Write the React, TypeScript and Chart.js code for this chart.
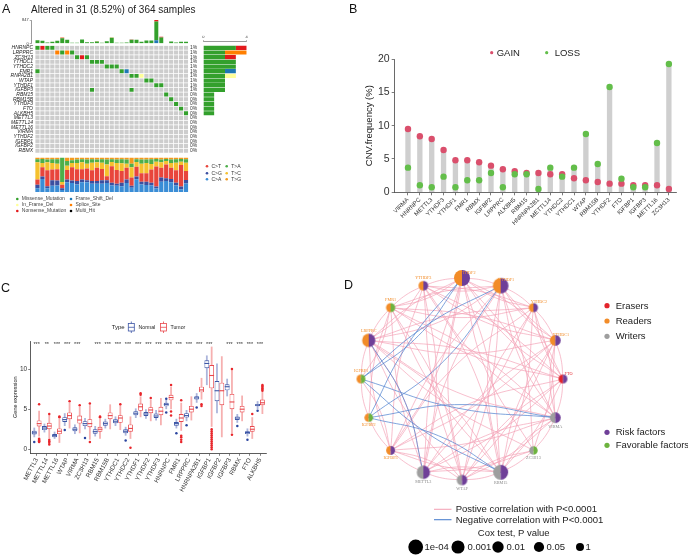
import React, { useEffect, useRef } from 'react';
import { Chart, registerables } from 'chart.js';

Chart.register(...registerables);

const PW = 688;
const PH = 557;
const SANS = '"Liberation Sans", Arial, Helvetica, sans-serif';
const SERIF = '"Liberation Serif", "Times New Roman", serif';

/* ================= Panel A : oncoplot ================= */
const oncoSamples = Array.from({ length: 31 }, (_, i) => `S${i + 1}`);
const oncoGenes = ['HNRNPC', 'LRPPRC', 'ZC3H13', 'YTHDC1', 'YTHDC2', 'FMR1', 'RNPA2B1', 'WTAP', 'YTHDF1', 'IGFBP3', 'RBM15', 'RBM15B', 'YTHDF3', 'FTO', 'ALKBH5', 'METTL3', 'METTL14', 'METTL16', 'VIRMA', 'YTHDF2', 'IGFBP1', 'IGFBP2', 'RBMX'];
const oncoFreq = ['1%', '1%', '1%', '1%', '1%', '1%', '1%', '1%', '1%', '1%', '0%', '0%', '0%', '0%', '0%', '0%', '0%', '0%', '0%', '0%', '0%', '0%', '0%'];
// [sample index, mutation type] per gene
const oncoHits: [number, string][][] = [
  [[0, 'M'], [1, 'N'], [2, 'M'], [3, 'M']],
  [[4, 'S'], [5, 'M'], [6, 'S'], [7, 'M']],
  [[8, 'M'], [9, 'N'], [10, 'M']],
  [[11, 'M'], [12, 'M'], [13, 'M']],
  [[14, 'M'], [15, 'M'], [16, 'M']],
  [[0, 'M'], [17, 'M'], [18, 'F']],
  [[19, 'M'], [20, 'M'], [21, 'I']],
  [[22, 'M'], [23, 'M']],
  [[24, 'M'], [25, 'M']],
  [[11, 'M'], [19, 'M']],
  [[26, 'M']],
  [[27, 'M']],
  [[28, 'M']],
  [[29, 'M']],
  [[30, 'M']],
  [], [], [], [], [], [], [], [],
];
const mutCodes = ['M', 'F', 'I', 'S', 'N', 'X'];
const mutNames = ['Missense_Mutation', 'Frame_Shift_Del', 'In_Frame_Del', 'Splice_Site', 'Nonsense_Mutation', 'Multi_Hit'];
const mutColors: Record<string, string> = { M: '#33A02C', F: '#1F78B4', I: '#FFFF99', S: '#FF7F00', N: '#E31A1C', X: '#000000' };

// TMB per sample (top bar)
const tmbMaxLabel = 847;
const tmbFrameShift = [0, 0, 0, 0, 0, 0, 0, 0, 0, 0, 0, 0, 0, 0, 0, 0, 0, 0, 0, 0, 0, 0, 0, 0, 120, 0, 0, 0, 0, 0, 0];
const tmbMissense = [120, 96, 36, 60, 96, 192, 132, 24, 24, 144, 48, 48, 72, 24, 84, 204, 24, 24, 36, 132, 132, 60, 108, 108, 670, 216, 12, 72, 36, 60, 60];
const tmbNonsense = [0, 0, 0, 0, 0, 12, 0, 0, 0, 0, 0, 0, 0, 0, 0, 0, 0, 0, 0, 12, 0, 0, 0, 0, 57, 24, 0, 0, 0, 0, 0];
const tmbSplice = [0, 0, 0, 0, 0, 12, 0, 0, 0, 0, 0, 0, 12, 0, 0, 12, 0, 0, 0, 0, 0, 0, 0, 0, 0, 0, 0, 0, 0, 0, 0];

// Ti/Tv fractions per sample (%)
const titvCA = [11, 38, 11, 18, 19, 6, 28, 26, 22, 28, 28, 24, 24, 24, 26, 19, 18, 17, 26, 12, 37, 22, 20, 19, 10, 30, 32, 28, 19, 8, 25];
const titvCG = [10, 7, 6, 16, 14, 5, 8, 7, 10, 8, 6, 8, 8, 10, 8, 8, 6, 10, 10, 6, 8, 8, 10, 8, 6, 12, 8, 10, 8, 8, 10];
const titvCT = [15, 27, 46, 31, 33, 10, 28, 39, 34, 30, 34, 31, 38, 33, 12, 48, 40, 34, 34, 24, 28, 24, 24, 38, 58, 28, 40, 32, 36, 62, 26];
const titvTC = [50, 12, 23, 19, 16, 8, 12, 12, 18, 20, 14, 22, 16, 18, 34, 12, 20, 22, 12, 30, 14, 28, 30, 16, 14, 16, 10, 14, 22, 10, 24];
const titvTA = [9, 12, 8, 11, 13, 71, 14, 8, 10, 9, 12, 10, 8, 10, 14, 8, 10, 12, 12, 10, 8, 12, 10, 14, 8, 8, 6, 10, 10, 8, 10];
const titvTG = [5, 4, 6, 5, 5, 0, 10, 8, 6, 5, 6, 5, 6, 5, 6, 5, 6, 5, 6, 18, 5, 6, 6, 5, 4, 6, 4, 6, 5, 4, 5];
const titvColors: Record<string, string> = { 'C>T': '#E8453C', 'C>G': '#3B4FA0', 'C>A': '#3A8DD6', 'T>A': '#4DAF4A', 'T>C': '#F5C12E', 'T>G': '#F39A1D' };

/* ================= Panel B : CNV ================= */
const cnvGenes = ['VIRMA', 'HNRNPC', 'METTL3', 'YTHDF3', 'YTHDF1', 'FMR1', 'RBMX', 'IGFBP2', 'LRPPRC', 'ALKBH5', 'RBM15', 'HNRNPA2B1', 'METTL14', 'YTHDC2', 'YTHDC1', 'WTAP', 'RBM15B', 'YTHDF2', 'FTO', 'IGFBP1', 'IGFBP3', 'METTL16', 'ZC3H13'];
const cnvGain = [9.5, 8.4, 8.0, 6.35, 4.8, 4.8, 4.5, 4.0, 3.45, 3.15, 2.9, 2.9, 2.7, 2.7, 2.1, 1.8, 1.55, 1.3, 1.3, 1.05, 1.05, 1.05, 0.5];
const cnvLoss = [3.7, 1.05, 0.75, 2.35, 0.75, 1.8, 1.8, 2.9, 0.75, 2.7, 2.7, 0.5, 3.7, 2.35, 3.7, 8.75, 4.25, 15.8, 2.05, 0.75, 0.75, 7.4, 19.25];
const cnvTicks = [0, 5, 10, 15, 20];
const GAIN_C = '#DA4F6C';
const LOSS_C = '#63BE4A';

/* ================= Panel C : boxplots ================= */
const boxGenes = ['METTL3', 'METTL14', 'METTL16', 'WTAP', 'VIRMA', 'ZC3H13', 'RBM15', 'RBM15B', 'YTHDC1', 'YTHDC2', 'YTHDF1', 'YTHDF2', 'YTHDF3', 'HNRNPC', 'FMR1', 'LRPPRC', 'HNRNPA2B1', 'IGFBP1', 'IGFBP2', 'IGFBP3', 'RBMX', 'FTO', 'ALKBH5'];
const boxSig = ['***', '**', '***', '***', '***', '', '***', '***', '***', '***', '***', '***', '***', '***', '***', '***', '***', '***', '', '***', '***', '***', '***'];
// [lower whisker, Q1, median, Q3, upper whisker]
const normalStats = [
  [1.5, 1.85, 2.05, 2.3, 2.7], [2.1, 2.4, 2.65, 2.9, 3.2], [1.3, 1.5, 1.7, 1.9, 2.2], [2.9, 3.4, 3.7, 4.0, 4.5],
  [1.9, 2.25, 2.5, 2.75, 3.1], [2.5, 2.9, 3.2, 3.5, 3.9], [1.6, 1.95, 2.2, 2.5, 2.9], [2.6, 2.95, 3.2, 3.45, 3.8],
  [2.9, 3.25, 3.5, 3.75, 4.1], [1.7, 2.0, 2.25, 2.5, 2.8], [3.9, 4.25, 4.5, 4.75, 5.1], [3.8, 4.15, 4.4, 4.65, 5.0],
  [3.6, 3.9, 4.15, 4.45, 4.9], [5.0, 5.35, 5.6, 5.8, 6.2], [2.6, 2.95, 3.2, 3.4, 3.8], [3.5, 3.95, 4.2, 4.5, 4.9],
  [5.8, 6.2, 6.4, 6.6, 7.0], [8.0, 10.1, 10.7, 11.1, 11.7], [4.5, 6.0, 7.3, 8.5, 10.7], [6.6, 7.35, 7.8, 8.1, 8.8],
  [3.3, 3.65, 3.9, 4.1, 4.4], [1.6, 1.9, 2.1, 2.25, 2.6], [5.0, 5.35, 5.5, 5.65, 6.0],
];
const normalOutliers = [[0.9], [], [], [2.4], [], [1.4], [], [], [], [1.1], [], [], [], [4.6, 6.3], [2.0], [3.0], [5.2], [], [], [], [2.9], [1.2], [4.8]];
const tumorStats = [
  [1.6, 2.85, 3.2, 3.6, 4.8], [1.4, 2.5, 2.9, 3.3, 4.3], [0.8, 1.9, 2.25, 2.6, 3.8], [2.6, 3.75, 4.2, 4.6, 5.8],
  [2.0, 3.2, 3.65, 4.2, 5.3], [1.2, 2.75, 3.2, 3.75, 5.5], [1.3, 2.2, 2.5, 2.8, 3.8], [2.5, 3.75, 4.2, 4.6, 5.6],
  [2.4, 3.3, 3.9, 4.25, 5.5], [1.3, 2.2, 2.6, 3.1, 4.1], [4.0, 4.8, 5.3, 5.7, 6.6], [3.5, 4.5, 4.9, 5.25, 6.2],
  [3.0, 4.25, 4.75, 5.3, 6.4], [5.0, 6.1, 6.45, 6.8, 7.8], [2.3, 3.4, 3.9, 4.4, 5.8], [3.6, 4.6, 5.0, 5.4, 6.6],
  [6.2, 7.1, 7.4, 7.8, 8.9], [2.8, 7.6, 9.2, 10.5, 12.8], [1.5, 5.5, 7.3, 8.3, 11.6], [2.0, 5.0, 5.9, 6.9, 9.9],
  [3.5, 4.6, 5.0, 5.4, 6.7], [1.3, 2.2, 2.5, 2.9, 4.0], [4.4, 5.5, 5.8, 6.2, 7.2],
];
const tumorOutliers = [
  [0.9, 1.0, 1.1, 1.2, 1.3, 5.6], [0.6, 0.8, 1.0, 1.2, 4.4], [4.0, 4.1], [6.0], [5.5], [0.9, 5.7], [4.0, 4.1], [], [5.6], [0.2],
  [6.8, 7.0], [6.4], [], [4.2, 4.7, 8.0], [0.9, 1.2, 1.5, 1.7, 6.1], [], [5.4, 5.6],
  [0, 0.25, 0.5, 0.75, 1.0, 1.25, 1.5, 1.75, 2.0, 2.25, 2.5], [], [1.8, 10.0], [], [4.4], [7.3, 7.45, 7.6, 7.75, 7.9, 8.0],
];
const boxTicks = [0, 5, 10];
const NORM_C = '#3D56A6';
const TUM_C = '#E8474C';

/* ================= Panel D : network ================= */
const netNodes = ['YTHDF2', 'YTHDF1', 'YTHDC2', 'YTHDC1', 'FTO', 'VIRMA', 'ZC3H13', 'RBM15', 'WTAP', 'METTL3', 'IGFBP3', 'IGFBP2', 'IGFBP1', 'LRPPRC', 'FMR1', 'YTHDF3'];
const netRole = ['Readers', 'Readers', 'Readers', 'Readers', 'Erasers', 'Writers', 'Writers', 'Writers', 'Writers', 'Writers', 'Readers', 'Readers', 'Readers', 'Readers', 'Readers', 'Readers'];
const netRisk = ['Risk', 'Risk', 'Risk', 'Risk', 'Risk', 'Risk', 'Favorable', 'Risk', 'Risk', 'Risk', 'Risk', 'Favorable', 'Favorable', 'Risk', 'Favorable', 'Risk'];
const netCoxP = [0.00002, 0.00003, 0.2, 0.02, 0.3, 0.02, 0.5, 0.00008, 0.03, 0.0008, 0.3, 0.4, 0.3, 0.0008, 0.2, 0.1];
const netNegEdges = [[12, 0], [12, 1], [11, 0], [11, 1], [12, 5], [11, 5], [13, 9], [12, 7], [11, 7]];
const netPosAdj = [
  [1, 2, 3, 4, 5, 6, 7, 8, 9, 10, 13, 14, 15],
  [2, 3, 4, 5, 6, 7, 8, 9, 10, 13, 14, 15],
  [3, 4, 5, 7, 8, 9, 10, 13, 14, 15],
  [4, 5, 6, 7, 8, 9, 10, 13, 14, 15],
  [5, 7, 8, 9, 10, 13, 14, 15],
  [6, 7, 8, 9, 10, 13, 14, 15],
  [7, 8, 9, 13],
  [8, 9, 10, 13, 14, 15],
  [9, 10, 13, 14, 15],
  [10, 13, 14, 15],
  [11, 12, 13, 15],
  [12, 14],
  [13, 14],
  [14, 15],
  [15],
  [],
];
const coxLegendP = [0.0001, 0.001, 0.01, 0.05, 1];
const coxLegendLabels = ['1e-04', '0.001', '0.01', '0.05', '1'];
const roleColors: Record<string, string> = { Erasers: '#E3242B', Readers: '#F28C28', Writers: '#9E9E9E' };
const riskColors: Record<string, string> = { Risk: '#6F3F98', Favorable: '#6DB33F' };

/* ================= helpers ================= */
function txt(ctx: CanvasRenderingContext2D, s: string, x: number, y: number, o: any = {}) {
  ctx.font = `${o.style || 'normal'} ${o.weight || 'normal'} ${o.size || 10}px ${o.family || SANS}`;
  ctx.fillStyle = o.color || '#222';
  ctx.textAlign = o.align || 'left';
  ctx.textBaseline = o.base || 'middle';
  ctx.fillText(s, x, y);
}
function dot(ctx: CanvasRenderingContext2D, x: number, y: number, r: number, color: string) {
  ctx.beginPath();
  ctx.arc(x, y, r, 0, Math.PI * 2);
  ctx.fillStyle = color;
  ctx.fill();
}
function frame(L: number, T: number, R: number, B: number, ax: any = {}) {
  return {
    animation: false,
    responsive: false,
    maintainAspectRatio: false,
    events: [],
    layout: {
      padding: {
        left: L - (ax.l || 0),
        top: T - (ax.t || 0),
        right: PW - R - (ax.r || 0),
        bottom: PH - B - (ax.b || 0),
      },
    },
  };
}
const quiet = { legend: { display: false }, tooltip: { enabled: false } };
const fixedTicks = (vals: number[]) => (s: any) => {
  s.ticks = vals.map((v) => ({ value: v }));
};
const sizeForP = (p: number) => 4 + 0.85 * -Math.log10(p);

/* ================= chart configs ================= */
const cfgTmb = () => ({
  type: 'bar',
  data: {
    datasets: [
      { vals: tmbFrameShift, c: mutColors.F },
      { vals: tmbMissense, c: mutColors.M },
      { vals: tmbNonsense, c: mutColors.N },
      { vals: tmbSplice, c: mutColors.S },
    ].map((d) => ({
      data: d.vals.map((v, i) => ({ x: i, y: v })),
      backgroundColor: d.c,
      borderWidth: 0,
      barPercentage: 0.8,
      categoryPercentage: 1,
    })),
  },
  options: {
    ...frame(31.7, 20, 188.5, 43.5, { l: 12 }),
    plugins: quiet,
    scales: {
      x: { type: 'linear', offset: false, stacked: true, min: -1.17, max: 30.5, display: false },
      y: {
        stacked: true, min: 0, max: tmbMaxLabel,
        afterBuildTicks: fixedTicks([0, tmbMaxLabel]),
        ticks: { font: { size: 4, family: SANS }, color: '#333', padding: 1 },
        grid: { drawOnChartArea: false, tickLength: 2, color: '#555', lineWidth: 0.5 },
        border: { color: '#555', width: 0.6 },
        afterFit: (s: any) => { s.width = 12; },
      },
    },
  },
});

const gridPlugin = {
  id: 'gridText',
  afterDraw(chart: any) {
    const ctx = chart.ctx;
    const ys = chart.scales.y;
    ctx.save();
    txt(ctx, 'A', 2, 12.5, { size: 12.5, base: 'alphabetic', color: '#111' });
    txt(ctx, 'Altered in 31 (8.52%) of 364 samples', 31, 10.5, { size: 10, color: '#222' });
    oncoGenes.forEach((g, r) => {
      const y = ys.getPixelForValue(r);
      txt(ctx, g, 33, y, { size: 5, align: 'right', style: 'italic', color: '#222' });
      txt(ctx, oncoFreq[r], 190, y, { size: 5, color: '#333' });
    });
    // Ti/Tv legend
    const tl = [['C>T', 'C>G', 'C>A'], ['T>A', 'T>C', 'T>G']];
    const tys = [166.3, 173.3, 179.3];
    tl.forEach((col, ci) => col.forEach((lab, ri) => {
      const x0 = ci === 0 ? 207 : 226.7;
      dot(ctx, x0, tys[ri], 1.3, titvColors[lab]);
      txt(ctx, lab, x0 + 4.5, tys[ri], { size: 5, color: '#333' });
    }));
    // mutation legend
    const ml = [['M', 'I', 'N'], ['F', 'S', 'X']];
    const mys = [199, 205, 211];
    ml.forEach((col, ci) => col.forEach((code, ri) => {
      const x0 = ci === 0 ? 17.3 : 71;
      dot(ctx, x0, mys[ri], 1.3, mutColors[code]);
      txt(ctx, mutNames[mutCodes.indexOf(code)], x0 + 4.5, mys[ri], { size: 5, color: '#444' });
    }));
    ctx.restore();
  },
};

const cfgGrid = () => ({
  type: 'bar',
  data: {
    labels: oncoSamples,
    datasets: oncoGenes.map((g, r) => ({
      label: g,
      data: oncoSamples.map(() => [r - 0.42, r + 0.42]),
      backgroundColor: oncoSamples.map((_, c) => {
        const hit = oncoHits[r].find((h) => h[0] === c);
        return hit ? mutColors[hit[1]] : '#CDCDCD';
      }),
      borderWidth: 0,
      grouped: false,
      barPercentage: 0.84,
      categoryPercentage: 1,
    })),
  },
  options: {
    ...frame(35, 45.5, 188.5, 153),
    plugins: quiet,
    scales: {
      x: { display: false },
      y: { stacked: false, min: -0.5, max: 22.5, reverse: true, display: false },
    },
  },
  plugins: [gridPlugin],
});

const countHits = (r: number, t: string) => oncoHits[r].filter((h) => h[1] === t).length;
const cfgSide = () => ({
  type: 'bar',
  data: {
    datasets: ['M', 'N', 'S', 'F', 'I'].map((t) => ({
      data: oncoGenes.map((_, r) => ({ x: countHits(r, t), y: r })),
      backgroundColor: mutColors[t],
      borderWidth: 0,
      barPercentage: 0.9,
      categoryPercentage: 1,
    })),
  },
  options: {
    indexAxis: 'y',
    ...frame(203.3, 41.7, 246.7, 153, { t: 6 }),
    plugins: quiet,
    scales: {
      y: { type: 'linear', offset: false, stacked: true, min: -1.313, max: 22.5, reverse: true, display: false },
      x: {
        stacked: true, position: 'top', min: 0, max: 4,
        afterBuildTicks: fixedTicks([0, 4]),
        ticks: { font: { size: 4, family: SANS }, color: '#333', padding: 0.5 },
        grid: { drawOnChartArea: false, tickLength: 1.5, color: '#555', lineWidth: 0.5 },
        border: { color: '#555', width: 0.6 },
        afterFit: (s: any) => { s.height = 6; },
      },
    },
  },
});

const cfgTitv = () => ({
  type: 'bar',
  data: {
    labels: oncoSamples,
    datasets: [
      { v: titvCA, c: titvColors['C>A'] },
      { v: titvCG, c: titvColors['C>G'] },
      { v: titvCT, c: titvColors['C>T'] },
      { v: titvTC, c: titvColors['T>C'] },
      { v: titvTA, c: titvColors['T>A'] },
      { v: titvTG, c: titvColors['T>G'] },
    ].map((d) => ({ data: d.v, backgroundColor: d.c, borderWidth: 0, barPercentage: 0.86, categoryPercentage: 1 })),
  },
  options: {
    ...frame(35, 157.5, 188.5, 192),
    plugins: quiet,
    scales: {
      x: { stacked: true, display: false },
      y: { stacked: true, min: 0, max: 100, display: false },
    },
  },
});

const cnvPlugin = {
  id: 'cnvText',
  afterDraw(chart: any) {
    const ctx = chart.ctx;
    ctx.save();
    txt(ctx, 'B', 349, 12.5, { size: 12.5, base: 'alphabetic', color: '#111' });
    dot(ctx, 491.7, 52.7, 1.6, GAIN_C);
    txt(ctx, 'GAIN', 496.7, 53, { size: 9.5, color: '#222' });
    dot(ctx, 546.7, 52.7, 1.6, LOSS_C);
    txt(ctx, 'LOSS', 554.7, 53, { size: 9.5, color: '#222' });
    ctx.restore();
  },
};

const cfgCnv = () => ({
  type: 'bar',
  data: {
    datasets: [
      { type: 'scatter', label: 'LOSS', data: cnvLoss.map((v, i) => ({ x: i, y: v })), backgroundColor: LOSS_C, borderWidth: 0, pointRadius: 3.2, order: 0, clip: false },
      { type: 'scatter', label: 'GAIN', data: cnvGain.map((v, i) => ({ x: i, y: v })), backgroundColor: GAIN_C, borderWidth: 0, pointRadius: 3.2, order: 1, clip: false },
      { type: 'bar', label: 'range', data: cnvGenes.map((_, i) => ({ x: i, y: Math.max(cnvGain[i], cnvLoss[i]) })), backgroundColor: '#CFCFCF', borderWidth: 0, barPercentage: 0.45, categoryPercentage: 1, order: 2 },
    ],
  },
  options: {
    ...frame(394.7, 59, 676, 192.3, { l: 31, b: 40 }),
    plugins: quiet,
    scales: {
      x: {
        type: 'linear', offset: false, min: -1.12, max: 22.6,
        afterBuildTicks: fixedTicks(cnvGenes.map((_, i) => i)),
        ticks: { autoSkip: false, minRotation: 45, maxRotation: 45, callback: (v: number) => cnvGenes[v], font: { size: 6, family: SANS }, color: '#333', padding: 1 },
        grid: { offset: false, drawOnChartArea: false, tickLength: 3, color: '#444', lineWidth: 0.7 },
        border: { color: '#444', width: 0.8 },
        afterFit: (s: any) => { s.height = 40; },
      },
      y: {
        min: 0, max: 20,
        afterBuildTicks: fixedTicks(cnvTicks),
        ticks: { font: { size: 10.5, family: SANS }, color: '#333', padding: 2 },
        grid: { drawOnChartArea: false, tickLength: 3, color: '#444', lineWidth: 0.7 },
        border: { color: '#444', width: 0.8 },
        title: { display: true, text: 'CNV.frequency (%)', font: { size: 9.5, family: SANS }, color: '#222', padding: 0 },
        afterFit: (s: any) => { s.width = 31; },
      },
    },
  },
  plugins: [cnvPlugin],
});

const boxPlugin = {
  id: 'boxExtras',
  beforeDatasetsDraw(chart: any) {
    const ctx = chart.ctx;
    const ys = chart.scales.y;
    ctx.save();
    [normalStats, tumorStats].forEach((stats, d) => {
      const meta = chart.getDatasetMeta(d);
      ctx.strokeStyle = d === 0 ? 'rgba(70,90,175,0.45)' : 'rgba(236,80,80,0.45)';
      ctx.lineWidth = 1.8;
      stats.forEach((s, i) => {
        const el = meta.data[i];
        ctx.beginPath();
        ctx.moveTo(el.x, ys.getPixelForValue(s[0]));
        ctx.lineTo(el.x, ys.getPixelForValue(s[4]));
        ctx.stroke();
      });
    });
    ctx.restore();
  },
  afterDatasetsDraw(chart: any) {
    const ctx = chart.ctx;
    const ys = chart.scales.y;
    ctx.save();
    [normalStats, tumorStats].forEach((stats, d) => {
      const meta = chart.getDatasetMeta(d);
      const col = d === 0 ? NORM_C : TUM_C;
      const outs = d === 0 ? normalOutliers : tumorOutliers;
      ctx.strokeStyle = col;
      ctx.lineWidth = 1.1;
      stats.forEach((s, i) => {
        const el = meta.data[i];
        const y = ys.getPixelForValue(s[2]);
        ctx.beginPath();
        ctx.moveTo(el.x - el.width / 2, y);
        ctx.lineTo(el.x + el.width / 2, y);
        ctx.stroke();
        outs[i].forEach((o) => dot(ctx, el.x, ys.getPixelForValue(o), 1.25, d === 0 ? '#2B45A0' : '#E8262B'));
      });
    });
    ctx.restore();
  },
  afterDraw(chart: any) {
    const ctx = chart.ctx;
    const xs = chart.scales.x;
    ctx.save();
    txt(ctx, 'C', 1, 291.5, { size: 12.5, base: 'alphabetic', color: '#111' });
    boxSig.forEach((s, i) => {
      if (s) txt(ctx, s, xs.getPixelForValue(i), 344.5, { size: 5.5, align: 'center', color: '#333' });
    });
    txt(ctx, 'Type', 111.7, 327.3, { size: 6, color: '#222' });
    const icon = (x0: number, col: string) => {
      ctx.strokeStyle = col;
      ctx.lineWidth = 0.8;
      ctx.beginPath();
      ctx.moveTo(x0 + 3, 321.5); ctx.lineTo(x0 + 3, 323.5);
      ctx.moveTo(x0 + 3, 331); ctx.lineTo(x0 + 3, 333);
      ctx.stroke();
      ctx.strokeRect(x0, 323.5, 6, 7.5);
      ctx.beginPath();
      ctx.moveTo(x0, 327.3); ctx.lineTo(x0 + 6, 327.3);
      ctx.stroke();
    };
    icon(128.3, NORM_C);
    txt(ctx, 'Normal', 138.5, 327.5, { size: 5.2, color: '#222' });
    icon(160.5, TUM_C);
    txt(ctx, 'Tumor', 170.5, 327.5, { size: 5.2, color: '#222' });
    ctx.restore();
  },
};

const cfgBox = () => ({
  type: 'bar',
  data: {
    datasets: [
      { label: 'Normal', data: boxGenes.map((_, i) => ({ x: i, y: [normalStats[i][1], normalStats[i][3]] })), backgroundColor: '#FFFFFF', borderColor: NORM_C, borderWidth: 0.9, borderSkipped: false, barPercentage: 1, categoryPercentage: 0.95 },
      { label: 'Tumor', data: boxGenes.map((_, i) => ({ x: i, y: [tumorStats[i][1], tumorStats[i][3]] })), backgroundColor: '#FFFFFF', borderColor: TUM_C, borderWidth: 0.9, borderSkipped: false, barPercentage: 1, categoryPercentage: 0.95 },
    ],
  },
  options: {
    ...frame(30.7, 341, 266.7, 453.3, { l: 19, b: 40 }),
    plugins: quiet,
    scales: {
      x: {
        type: 'linear', offset: false, min: -0.59, max: 22.66,
        afterBuildTicks: fixedTicks(boxGenes.map((_, i) => i)),
        ticks: { autoSkip: false, minRotation: 62, maxRotation: 62, callback: (v: number) => boxGenes[v], font: { size: 6.3, family: SANS }, color: '#333', padding: 1 },
        grid: { offset: false, drawOnChartArea: false, tickLength: 2.5, color: '#333', lineWidth: 0.6 },
        border: { color: '#333', width: 0.8 },
        afterFit: (s: any) => { s.height = 40; },
      },
      y: {
        min: -0.5, max: 13.5,
        afterBuildTicks: fixedTicks(boxTicks),
        ticks: { font: { size: 6.5, family: SANS }, color: '#333', padding: 1 },
        grid: { drawOnChartArea: false, tickLength: 2.5, color: '#333', lineWidth: 0.6 },
        border: { color: '#333', width: 0.8 },
        title: { display: true, text: 'Gene expression', font: { size: 5.5, family: SANS }, color: '#222', padding: 0 },
        afterFit: (s: any) => { s.width = 19; },
      },
    },
  },
  plugins: [boxPlugin],
});

function nodePos(k: number) {
  const a = (k * Math.PI * 2) / netNodes.length;
  return { x: Math.sin(a), y: Math.cos(a) };
}
function edgePath(i: number, j: number) {
  const p = nodePos(i);
  const q = nodePos(j);
  const mx = (p.x + q.x) / 2;
  const my = (p.y + q.y) / 2;
  const dx = q.x - p.x;
  const dy = q.y - p.y;
  const len = Math.hypot(dx, dy);
  let nx = -dy / len;
  let ny = dx / len;
  if (nx * -mx + ny * -my < 0) { nx = -nx; ny = -ny; }
  // alternate the bow direction so the chords fill the circle evenly
  const side = (i + j) % 2 === 0 ? 1 : -0.7;
  const k = 0.07 * len * side;
  return [p, { x: mx + nx * k, y: my + ny * k }, q];
}
function nodeGlyph(r: number, left: string, right: string) {
  const size = Math.ceil(r * 2 + 2);
  const c = document.createElement('canvas');
  c.width = size;
  c.height = size;
  const g = c.getContext('2d')!;
  const m = size / 2;
  g.beginPath(); g.moveTo(m, m); g.arc(m, m, r, Math.PI / 2, (3 * Math.PI) / 2); g.closePath(); g.fillStyle = left; g.fill();
  g.beginPath(); g.moveTo(m, m); g.arc(m, m, r, -Math.PI / 2, Math.PI / 2); g.closePath(); g.fillStyle = right; g.fill();
  return c;
}

const netPlugin = {
  id: 'netText',
  afterDraw(chart: any) {
    const ctx = chart.ctx;
    const meta = chart.getDatasetMeta(0);
    ctx.save();
    txt(ctx, 'D', 344, 289, { size: 12.5, base: 'alphabetic', color: '#111' });
    netNodes.forEach((n, k) => {
      const el = meta.data[k];
      const r = sizeForP(netCoxP[k]);
      const col = netRole[k] === 'Writers' ? '#8A8A8A' : netRole[k] === 'Erasers' ? '#E3242B' : '#F28C28';
      let x = el.x;
      let y = el.y;
      if (k <= 4) { x += 5.5; y -= 5.5; } else if (k >= 12) { y -= r + 3.2; } else { y += r + 3.4; }
      txt(ctx, n, x, y, { size: 4.2, family: SERIF, align: 'center', color: col });
    });
    // role / risk legends
    [['Erasers', 305.7], ['Readers', 321], ['Writers', 336.3]].forEach(([lab, y]: any) => {
      dot(ctx, 607, y, 2.6, roleColors[lab]);
      txt(ctx, lab, 615.7, y + 0.3, { size: 9.5, color: '#222' });
    });
    [['Risk', 'Risk factors', 432.3], ['Favorable', 'Favorable factors', 445.3]].forEach(([key, lab, y]: any) => {
      dot(ctx, 607, y, 2.6, riskColors[key]);
      txt(ctx, lab, 615.7, y + 0.3, { size: 9.5, color: '#222' });
    });
    // edge legend
    ctx.lineWidth = 1.1;
    ctx.strokeStyle = '#F4A6B8';
    ctx.beginPath(); ctx.moveTo(434, 509.3); ctx.lineTo(451.5, 509.3); ctx.stroke();
    ctx.strokeStyle = '#4F82CF';
    ctx.beginPath(); ctx.moveTo(434, 519.7); ctx.lineTo(451.5, 519.7); ctx.stroke();
    txt(ctx, 'Postive correlation with P<0.0001', 455.7, 509.6, { size: 9.5, color: '#222' });
    txt(ctx, 'Negative correlation with P<0.0001', 455.7, 520, { size: 9.5, color: '#222' });
    txt(ctx, 'Cox test, P value', 513.7, 533.3, { size: 9.5, align: 'center', color: '#222' });
    const cx = [415.7, 458, 498, 539, 580];
    const lx = [424.5, 467.5, 506.5, 546.5, 585.5];
    coxLegendP.forEach((p, i) => {
      dot(ctx, cx[i], 547, sizeForP(p), '#000');
      txt(ctx, coxLegendLabels[i], lx[i], 547.3, { size: 9.5, color: '#222' });
    });
    ctx.restore();
  },
};

const cfgNet = () => {
  const nodes = {
    type: 'scatter',
    data: netNodes.map((_, k) => nodePos(k)),
    pointStyle: netNodes.map((_, k) => nodeGlyph(sizeForP(netCoxP[k]), roleColors[netRole[k]], riskColors[netRisk[k]])),
    pointRadius: netNodes.map((_, k) => sizeForP(netCoxP[k])),
    order: 0,
    clip: false,
  };
  const edge = (i: number, j: number, color: string, w: number) => ({
    type: 'scatter',
    data: edgePath(i, j),
    showLine: true,
    tension: 0.45,
    borderColor: color,
    borderWidth: w,
    pointRadius: 0,
    order: 1,
    clip: false,
  });
  const neg = netNegEdges.map(([i, j]) => edge(i, j, 'rgba(79,130,207,0.9)', 0.8));
  const pos: any[] = [];
  netPosAdj.forEach((list, i) => list.forEach((j) => pos.push(edge(i, j, 'rgba(243,160,180,0.75)', 0.9))));
  return {
    type: 'scatter',
    data: { datasets: [nodes, ...neg, ...pos] },
    options: {
      ...frame(335.75, 252.75, 588.25, 505.25),
      plugins: quiet,
      scales: {
        x: { type: 'linear', min: -1.25, max: 1.25, display: false },
        y: { type: 'linear', min: -1.25, max: 1.25, display: false },
      },
    },
    plugins: [netPlugin],
  };
};

/* ================= components ================= */
function Layer({ make }: { make: () => any }) {
  const ref = useRef<HTMLCanvasElement | null>(null);
  useEffect(() => {
    if (!ref.current) return undefined;
    const chart = new Chart(ref.current, make());
    return () => chart.destroy();
  }, [make]);
  return (
    <canvas
      ref={ref}
      width={PW}
      height={PH}
      style={{ position: 'absolute', left: 0, top: 0, width: PW, height: PH }}
    />
  );
}

const layers = [cfgNet, cfgTmb, cfgGrid, cfgSide, cfgTitv, cfgCnv, cfgBox];

export default function App() {
  return (
    <div style={{ position: 'fixed', left: 0, top: 0, width: PW, height: PH, background: '#FFFFFF', overflow: 'hidden' }}>
      {layers.map((m, i) => (
        <Layer key={i} make={m} />
      ))}
    </div>
  );
}
